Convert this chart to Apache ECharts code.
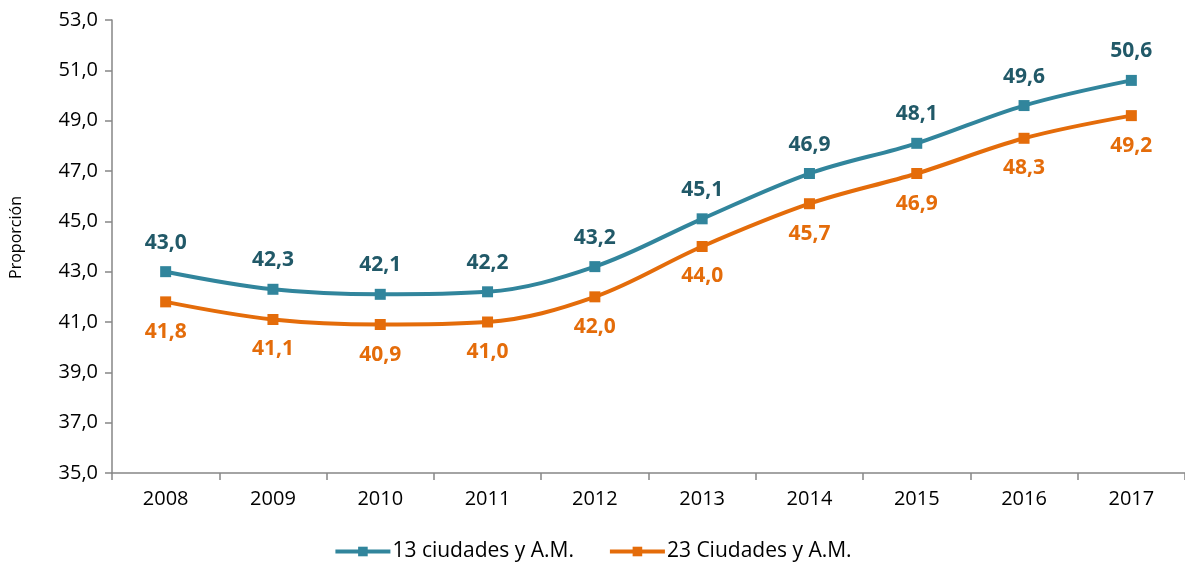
<!DOCTYPE html>
<html>
<head>
<meta charset="utf-8">
<script src="https://cdn.jsdelivr.net/npm/echarts@6/dist/echarts.min.js"></script>
<style>
  html, body { margin: 0; padding: 0; background: #fff; }
  #chart { width: 1185px; height: 567px; }
</style>
</head>
<body>
<div id="chart"></div>
<script>
const years = ['2008', '2009', '2010', '2011', '2012', '2013', '2014', '2015', '2016', '2017'];
const ciudades13 = [43.0, 42.3, 42.1, 42.2, 43.2, 45.1, 46.9, 48.1, 49.6, 50.6];
const ciudades23 = [41.8, 41.1, 40.9, 41.0, 42.0, 44.0, 45.7, 46.9, 48.3, 49.2];

const fontFamily = '"Open Sans", "Noto Sans", sans-serif';
const fmt = (v) => v.toFixed(1).replace('.', ',');

const chart = echarts.init(document.getElementById('chart'));

chart.setOption({
  animation: false,
  backgroundColor: '#fff',
  textStyle: { fontFamily: fontFamily },
  grid: { left: 112, top: 20, width: 1081, height: 453 },
  legend: {
    bottom: 0,
    left: 'center',
    itemWidth: 55,
    itemHeight: 12,
    itemGap: 34,
    lineStyle: { width: 4 },
    textStyle: { fontSize: 21, color: '#000', fontFamily: fontFamily, padding: [0, 0, 0, -3] },
    data: ['13 ciudades y A.M.', '23 Ciudades y A.M.'],
  },
  xAxis: {
    type: 'category',
    data: years,
    boundaryGap: true,
    axisLine: { lineStyle: { color: '#868686', width: 1.5 } },
    axisTick: { show: true, length: 7, lineStyle: { color: '#868686', width: 1.5 } },
    axisLabel: { color: '#000', fontSize: 20, margin: 16 },
  },
  yAxis: {
    type: 'value',
    min: 35,
    max: 53,
    interval: 2,
    name: 'Proporción',
    nameLocation: 'middle',
    nameGap: 88,
    nameTextStyle: { fontSize: 16, color: '#000', padding: [0, 0, 0, 18] },
    axisLine: { show: true, lineStyle: { color: '#868686', width: 1.5 } },
    axisTick: { show: true, length: 7, lineStyle: { color: '#868686', width: 1.5 } },
    axisLabel: { color: '#000', fontSize: 20, margin: 14, formatter: fmt },
    splitLine: { show: false },
  },
  series: [
    {
      name: '13 ciudades y A.M.',
      type: 'line',
      data: ciudades13,
      smooth: 0.35,
      symbol: 'rect',
      symbolSize: 11,
      lineStyle: { color: '#31859C', width: 4 },
      itemStyle: { color: '#31859C' },
      label: {
        show: true,
        position: 'top',
        distance: 13,
        color: '#215968',
        fontSize: 21,
        fontWeight: 'bold',
        formatter: (p) => fmt(p.value),
      },
    },
    {
      name: '23 Ciudades y A.M.',
      type: 'line',
      data: ciudades23,
      smooth: 0.35,
      symbol: 'rect',
      symbolSize: 11,
      lineStyle: { color: '#E46C0A', width: 4 },
      itemStyle: { color: '#E46C0A' },
      label: {
        show: true,
        position: 'bottom',
        distance: 14,
        color: '#E46C0A',
        fontSize: 21,
        fontWeight: 'bold',
        formatter: (p) => fmt(p.value),
      },
    },
  ],
});
</script>
</body>
</html>
